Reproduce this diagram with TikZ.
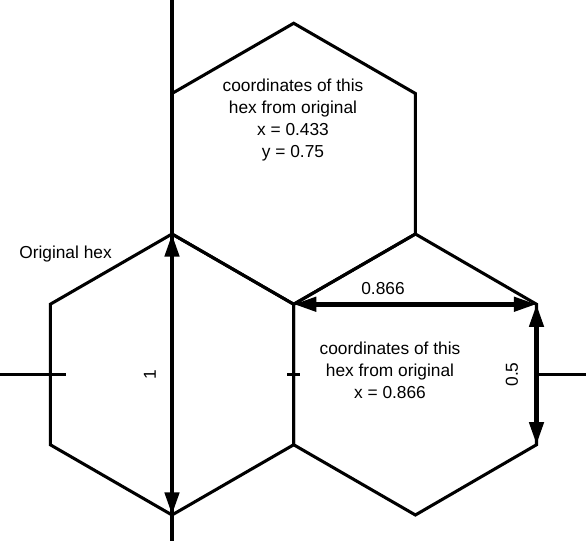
\documentclass[tikz,border=0pt]{standalone}
\usepackage{fontspec}
\setmainfont{Liberation Sans}
\usetikzlibrary{arrows.meta}
\begin{document}
\begin{tikzpicture}[x=0.75pt,y=-0.75pt,
  hexline/.style={line width=2.3pt, line join=miter},
  axisline/.style={line width=2.3pt},
  dimarrow/.style={line width=3.4pt, {Triangle[length=17pt,width=10.5pt]}-{Triangle[length=17pt,width=10.5pt]}},
  lbl/.style={font=\fontsize{13}{16.5}\selectfont, align=center, inner sep=0pt}]
\useasboundingbox (0,0) rectangle (586,541);
% original hex
\coordinate (At) at (172,234);
\coordinate (Aur) at (293.7,304.25);
\coordinate (Alr) at (293.7,444.75);
\coordinate (Ab) at (172,515);
\coordinate (All) at (50.3,444.75);
\coordinate (Aul) at (50.3,304.25);
% right hex
\coordinate (Bt) at (415.4,234);
\coordinate (Bur) at (536.5,304.25);
\coordinate (Blr) at (536.5,444.75);
\coordinate (Bb) at (415.4,515);
% top hex
\coordinate (Ct) at (293.7,23.25);
\coordinate (Cur) at (415.4,93.5);
\coordinate (Cul) at (172,93.5);
% axes
\coordinate (Vtop) at (172,0);
\coordinate (Vbot) at (172,541);
\coordinate (Hl0) at (0,374.5);
\coordinate (Hl1) at (66,374.5);
\coordinate (Hr0) at (536.5,374.5);
\coordinate (Hr1) at (586,374.5);
\coordinate (T0) at (287,374.5);
\coordinate (T1) at (300,374.5);

\draw[axisline] (Vtop) -- (Vbot);
\draw[axisline] (Hl0) -- (Hl1);
\draw[axisline] (Hr0) -- (Hr1);
\draw[axisline] (T0) -- (T1);

\draw[hexline] (At) -- (Aur) -- (Alr) -- (Ab) -- (All) -- (Aul) -- cycle;
\draw[hexline] (Bt) -- (Bur) -- (Blr) -- (Bb) -- (Alr) -- (Aur) -- cycle;
\draw[hexline] (Ct) -- (Cur) -- (Bt) -- (Aur) -- (At) -- (Cul) -- cycle;

\draw[dimarrow] (At) -- (Ab);
\draw[dimarrow] (Aur) -- (Bur);
\draw[dimarrow] (Bur) -- (Blr);

\node[lbl, rotate=90] (one) at (150,374.5) {1};
\node[lbl] (w866) at (383,289) {0.866};
\node[lbl, rotate=90] (half) at (512,374.5) {0.5};
\node[lbl, anchor=west] (orig) at (19,254) {Original hex};
\node[lbl] (topt) at (293,120) {coordinates of this\\hex from original\\x = 0.433\\y = 0.75};
\node[lbl] (rightt) at (390,370) {coordinates of this\\hex from original\\x = 0.866};
\end{tikzpicture}
\end{document}
